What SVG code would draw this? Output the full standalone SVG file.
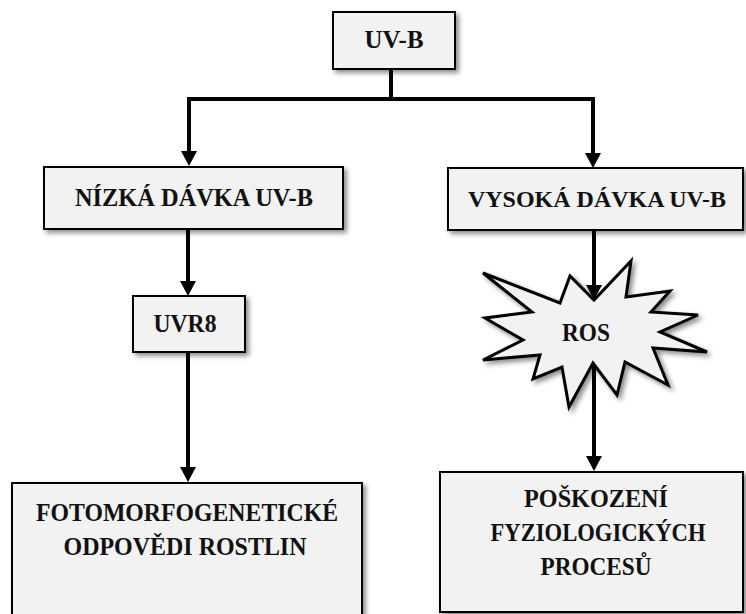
<svg xmlns="http://www.w3.org/2000/svg" width="746" height="614" viewBox="0 0 746 614">
  <style>
    .box { fill: #f2f2f2; stroke: #000; stroke-width: 2; filter: url(#shadow); }
    .star { fill: #f2f2f2; stroke: #000; stroke-width: 3; stroke-linejoin: miter; filter: url(#shadow); }
    .lbl { font-family: "Liberation Serif", "Times New Roman", serif; font-weight: bold; font-size: 26px; fill: #111; text-anchor: middle; }
    .conn { fill: none; stroke: #000; stroke-width: 4; stroke-linejoin: miter; }
  </style>
  <defs>
    <filter id="shadow" x="-10%" y="-10%" width="125%" height="130%">
      <feDropShadow dx="3" dy="3" stdDeviation="2.5" flood-color="#000" flood-opacity="0.45"/>
    </filter>
    <marker id="arrow" viewBox="0 0 15 16" markerWidth="15" markerHeight="16" refX="0" refY="8" orient="auto-start-reverse" markerUnits="userSpaceOnUse">
      <path d="M0,0 L15,8 L0,16 z" fill="#000"/>
    </marker>
  </defs>
  <rect width="746" height="614" fill="#fff"/>

  <g id="connectors">
    <path class="conn" d="M391,69 V99"/>
    <path class="conn" d="M189,151 V99 H593 V153" marker-start="url(#arrow)" marker-end="url(#arrow)"/>
    <path class="conn" d="M188,229 V281" marker-end="url(#arrow)"/>
    <path class="conn" d="M594,230 V285" marker-end="url(#arrow)"/>
    <path class="conn" d="M188,352 V467" marker-end="url(#arrow)"/>
    <path class="conn" d="M594,362 V456" marker-end="url(#arrow)"/>
  </g>

  <g id="uvb">
    <rect class="box" x="333" y="12" width="122" height="57"/>
    <text class="lbl" x="394" y="48" textLength="59" lengthAdjust="spacingAndGlyphs">UV-B</text>
  </g>

  <g id="nizka">
    <rect class="box" x="44" y="167" width="299" height="62"/>
    <text class="lbl" x="194" y="206" textLength="238" lengthAdjust="spacingAndGlyphs">NÍZKÁ DÁVKA UV-B</text>
  </g>

  <g id="vysoka">
    <rect class="box" x="448" y="168" width="295" height="62"/>
    <text class="lbl" x="597" y="207" style="font-size:24px">VYSOKÁ DÁVKA UV-B</text>
  </g>

  <g id="uvr8">
    <rect class="box" x="133" y="296" width="112" height="56"/>
    <text class="lbl" x="185" y="332" textLength="63" lengthAdjust="spacingAndGlyphs">UVR8</text>
  </g>

  <g id="ros">
    <polygon class="star" points="483,273 560,303 570,276 594,300 631,261 626,297 670,291 651,312 698,315 660,332 707,352 653,348 668,385 625,362 617,395 593,363 569,407 562,367 533,379 540,355 483,360 523,340 485,318 532,312"/>
    <text class="lbl" x="586" y="341" textLength="48" lengthAdjust="spacingAndGlyphs">ROS</text>
  </g>

  <g id="foto">
    <rect class="box" x="12" y="483" width="350" height="140"/>
    <text class="lbl" x="187" y="521" textLength="302" lengthAdjust="spacingAndGlyphs">FOTOMORFOGENETICKÉ</text>
    <text class="lbl" x="185" y="555" textLength="243" lengthAdjust="spacingAndGlyphs">ODPOVĚDI ROSTLIN</text>
  </g>

  <g id="poskozeni">
    <rect class="box" x="440" y="472" width="303" height="140"/>
    <text class="lbl" x="596" y="507" textLength="144" lengthAdjust="spacingAndGlyphs">POŠKOZENÍ</text>
    <text class="lbl" x="598" y="541" textLength="215" lengthAdjust="spacingAndGlyphs">FYZIOLOGICKÝCH</text>
    <text class="lbl" x="596" y="575" textLength="111" lengthAdjust="spacingAndGlyphs">PROCESŮ</text>
  </g>
</svg>
